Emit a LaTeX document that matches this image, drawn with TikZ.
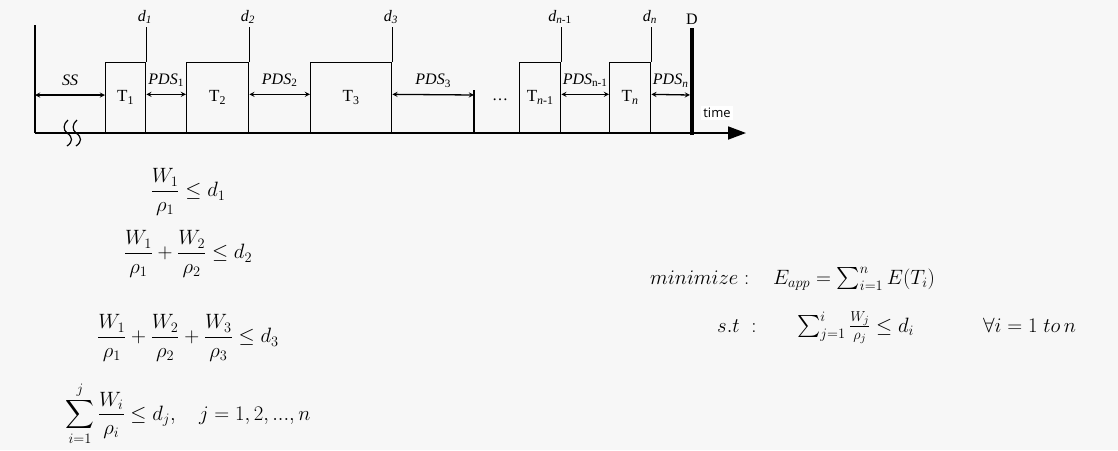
\documentclass[tikz,border=0pt]{standalone}
\usepackage[no-math]{fontspec}
\usepackage{amssymb}
\usetikzlibrary{arrows,arrows.meta}
\tikzset{>={stealth}}
\newfontfamily\tnr{Liberation Serif}
\newfontfamily\timefont{Open Sans}
\definecolor{bgfill}{HTML}{F7F7F7}
\begin{document}
\begin{tikzpicture}[x=1pt,y=-1pt,
    taskbox/.style={draw,line width=1.3pt,inner sep=0pt,anchor=south west,
        font=\tnr\fontsize{17}{19}\selectfont},
    gap/.style={<->,line width=1.3pt},
    pdslabel/.style={midway,anchor=base,yshift=10pt,inner sep=0pt,
        font=\tnr\itshape\fontsize{16}{18}\selectfont},
    dlabel/.style={above,inner sep=3pt,font=\tnr\itshape\fontsize{16}{18}\selectfont},
    leftmath/.style={inner sep=0pt,font=\fontsize{20}{24}\selectfont},
    rightmath/.style={inner sep=0pt,anchor=base west,font=\fontsize{22}{26}\selectfont}]
    \fill[bgfill] (0,0) rectangle (1118,450);
    \useasboundingbox (0,0) rectangle (1118,450);

    % time axis
    \coordinate (o) at (35,133);
    \coordinate (top) at (35,25);
    \coordinate (tend) at (746,133);
    \draw[line width=1.8pt,-{Triangle[length=18pt,width=13pt]}] (o) -- (tend);
    \draw[line width=2.5pt] (o) -- (top);
    \draw[line width=1.2pt] (68,120) .. controls (63,124) and (63,130) .. (67,133)
        .. controls (73,137) and (73,142) .. (67,146);
    \draw[line width=1.2pt] (77,120) .. controls (72,124) and (72,130) .. (76,133)
        .. controls (82,137) and (82,142) .. (76,146);

    % tasks
    \node[taskbox,minimum width=40,minimum height=70] (t1) at (105,133) {T\textsubscript{1}};
    \node[taskbox,minimum width=62,minimum height=70] (t2) at (186,133) {T\textsubscript{2}};
    \node[taskbox,minimum width=81,minimum height=70] (t3) at (310,133) {T\textsubscript{3}};
    \node[taskbox,minimum width=41,minimum height=70] (tm) at (519,133) {T\textsubscript{\textit{n}-1}};
    \node[taskbox,minimum width=41,minimum height=70] (tn) at (609,133) {T\textsubscript{\textit{n}}};
    \node[font=\tnr\fontsize{16}{18}\selectfont] (dots) at (500,100) {\dots};

    % deadlines
    \node[dlabel] (d1) at (145,27) {d\textsubscript{1}};
    \node[dlabel] (d2) at (248,27) {d\textsubscript{2}};
    \node[dlabel] (d3) at (391,27) {d\textsubscript{3}};
    \node[dlabel] (dm) at (560,27) {d\textsubscript{\textit{n}\upshape-1}};
    \node[dlabel] (dn) at (650,27) {d\textsubscript{\textit{n}}};
    \draw[line width=1.3pt] (t1.north east) -- (t1.north east |- d1.south);
    \draw[line width=1.3pt] (t2.north east) -- (t2.north east |- d2.south);
    \draw[line width=1.3pt] (t3.north east) -- (t3.north east |- d3.south);
    \draw[line width=1.3pt] (tm.north east) -- (tm.north east |- dm.south);
    \draw[line width=1.3pt] (tn.north east) -- (tn.north east |- dn.south);
    \node[dlabel] (D) at (692,28) {\upshape D};
    \coordinate (dbot) at (692,135);
    \draw[line width=4pt] (dbot) -- (dbot |- D.south);

    % slack times
    \coordinate (ss) at (35,95);
    \coordinate (p3) at (474,95);
    \coordinate (p3top) at (474,90);
    \coordinate (pn) at (690,95);
    \draw[line width=1.3pt] (p3top) -- (p3top |- o);
    \draw[gap] (ss) -- (ss -| t1.west) node[pdslabel] {SS};
    \draw[gap] ([yshift=3pt]t1.east) -- ([yshift=3pt]t2.west) node[pdslabel] {PDS\textsubscript{\upshape 1}};
    \draw[gap] ([yshift=3pt]t2.east) -- ([yshift=3pt]t3.west) node[pdslabel] {PDS\textsubscript{\upshape 2}};
    \draw[gap] ([yshift=3pt]t3.east) -- (p3) node[pdslabel] {PDS\textsubscript{\upshape 3}};
    \draw[gap] ([yshift=3pt]tm.east) -- ([yshift=3pt]tn.west) node[pdslabel] {PDS\textsubscript{\upshape n-1}};
    \draw[gap] ([yshift=3pt]tn.east) -- (pn) node[pdslabel] {PDS\textsubscript{\textit{n}}};
    \node[font=\timefont\fontsize{13}{15}\selectfont,fill=white,inner sep=2pt] (time) at (717,113) {time};

    % constraints
    \node[leftmath] (c1) at (188,192) {$\displaystyle\frac{W_1}{\rho_1}\leq d_1$};
    \node[leftmath] (c2) at (188,254) {$\displaystyle\frac{W_1}{\rho_1}+\frac{W_2}{\rho_2}\leq d_2$};
    \node[leftmath] (c3) at (188,338) {$\displaystyle\frac{W_1}{\rho_1}+\frac{W_2}{\rho_2}+\frac{W_3}{\rho_3}\leq d_3$};
    \node[leftmath] (c4) at (188,414) {$\displaystyle\sum_{i=1}^{j}\frac{W_i}{\rho_i}\leq d_j,\quad j=1,2,...,n$};

    % optimization problem
    \node[rightmath] (minlbl) at (650,284) {$minimize:$};
    \node[rightmath] (obj) at (773,284) {$E_{app}=\sum_{i=1}^{n}E(T_i)$};
    \node[rightmath] (stlbl) at (717,332) {$s.t\;:$};
    \node[rightmath] (cons) at (797,332) {$\sum_{j=1}^{i}\frac{W_j}{\rho_j}\leq d_i$};
    \node[rightmath] (forall) at (983,332) {$\forall i=1\;to\,n$};
\end{tikzpicture}
\end{document}
